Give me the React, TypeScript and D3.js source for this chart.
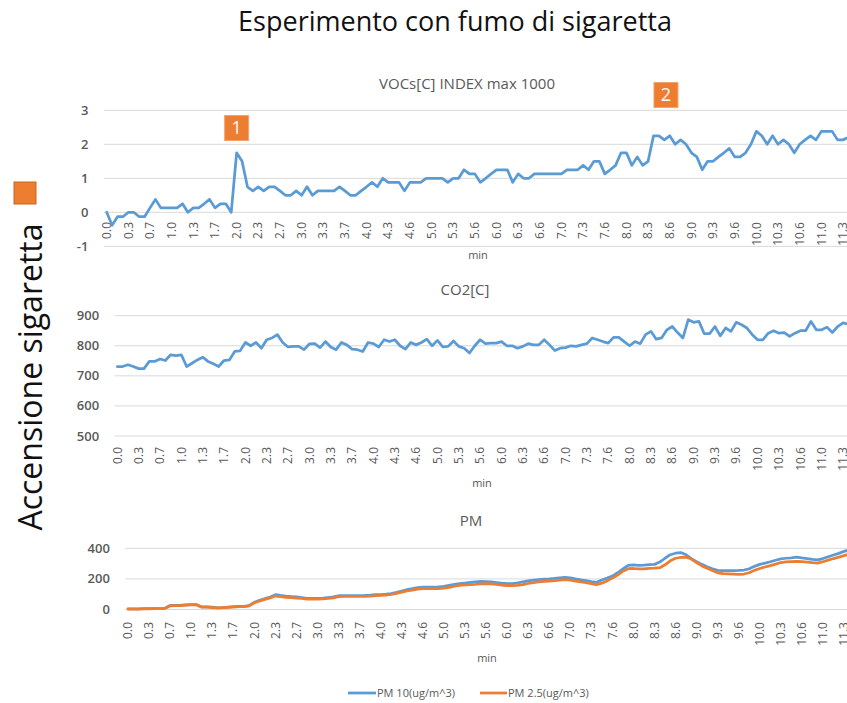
import * as d3 from 'd3'

// x categories: one sample every ~5 s, a label on every 4th sample
const tickLabels = [
  '0.0', '0.3', '0.7', '1.0', '1.3', '1.7', '2.0', '2.3', '2.7', '3.0', '3.3', '3.7',
  '4.0', '4.3', '4.6', '5.0', '5.3', '5.6', '6.0', '6.3', '6.6', '7.0', '7.3', '7.6',
  '8.0', '8.3', '8.6', '9.0', '9.3', '9.6', '10.0', '10.3', '10.6', '11.0', '11.3',
]
const labelEvery = 4

const voc = [
  0, -0.38, -0.13, -0.13, 0, 0, -0.13, -0.13, 0.13, 0.38,
  0.13, 0.13, 0.13, 0.13, 0.25, 0, 0.13, 0.13, 0.25, 0.38,
  0.13, 0.25, 0.25, 0, 1.75, 1.5, 0.75, 0.63, 0.75, 0.63,
  0.75, 0.75, 0.63, 0.5, 0.5, 0.63, 0.5, 0.75, 0.5, 0.63,
  0.63, 0.63, 0.63, 0.75, 0.63, 0.5, 0.5, 0.63, 0.75, 0.88,
  0.75, 1.0, 0.88, 0.88, 0.88, 0.63, 0.88, 0.88, 0.88, 1.0,
  1.0, 1.0, 1.0, 0.88, 1.0, 1.0, 1.25, 1.13, 1.13, 0.88,
  1.0, 1.13, 1.25, 1.25, 1.25, 0.88, 1.13, 1.0, 1.0, 1.13,
  1.13, 1.13, 1.13, 1.13, 1.13, 1.25, 1.25, 1.25, 1.38, 1.25,
  1.5, 1.5, 1.13, 1.25, 1.38, 1.75, 1.75, 1.38, 1.63, 1.38,
  1.5, 2.25, 2.25, 2.13, 2.25, 2.0, 2.13, 2.0, 1.75, 1.63,
  1.25, 1.5, 1.5, 1.63, 1.75, 1.88, 1.63, 1.63, 1.75, 2.0,
  2.38, 2.25, 2.0, 2.25, 2.0, 2.13, 2.0, 1.75, 2.0, 2.13,
  2.25, 2.13, 2.38, 2.38, 2.38, 2.13, 2.13, 2.2,
]

const co2 = [
  731, 731, 737, 731, 724, 724, 748, 748, 756, 751,
  770, 767, 770, 731, 742, 753, 762, 748, 740, 731,
  751, 753, 781, 783, 811, 800, 811, 792, 820, 826,
  837, 811, 796, 798, 798, 787, 806, 807, 794, 814,
  796, 787, 811, 803, 789, 787, 781, 811, 807, 796,
  820, 814, 820, 800, 789, 811, 803, 811, 822, 800,
  818, 796, 798, 816, 798, 792, 776, 800, 820, 807,
  809, 809, 814, 800, 800, 792, 798, 807, 803, 803,
  820, 803, 784, 792, 794, 800, 798, 803, 807, 826,
  820, 814, 809, 828, 828, 814, 800, 814, 807, 837,
  848, 822, 826, 853, 864, 844, 826, 887, 878, 881,
  840, 840, 864, 833, 859, 848, 878, 870, 859, 837,
  820, 820, 842, 850, 842, 844, 831, 842, 850, 850,
  881, 853, 853, 862, 844, 864, 876, 872,
]

const pm10 = [
  4, 4, 4, 5, 5, 6, 6, 8, 26, 27,
  28, 30, 32, 32, 17, 17, 15, 11, 13, 16,
  18, 20, 20, 26, 47, 60, 71, 82, 97, 92,
  88, 85, 82, 78, 73, 72, 73, 74, 78, 82,
  90, 91, 91, 91, 91, 92, 94, 97, 98, 100,
  104, 112, 121, 130, 136, 143, 147, 147, 147, 148,
  151, 158, 164, 169, 173, 177, 181, 184, 183, 180,
  176, 172, 169, 169, 174, 181, 187, 192, 195, 198,
  200, 203, 207, 210, 207, 200, 194, 189, 182, 178,
  193, 205, 218, 240, 265, 288, 291, 288, 290, 293,
  295, 310, 335, 358, 368, 372, 358, 332, 312, 295,
  280, 266, 256, 254, 254, 254, 255, 258, 266, 282,
  295, 303, 312, 322, 331, 335, 338, 342, 337, 333,
  328, 324, 333, 345, 356, 367, 380, 390,
]

const pm25 = [
  3, 3, 3, 4, 4, 5, 5, 7, 24, 25,
  26, 28, 30, 30, 15, 15, 13, 10, 12, 14,
  16, 18, 18, 24, 44, 56, 66, 76, 88, 84,
  80, 78, 75, 72, 68, 67, 68, 69, 72, 76,
  84, 85, 85, 85, 85, 86, 88, 91, 92, 94,
  98, 105, 113, 121, 127, 133, 136, 136, 136, 137,
  139, 145, 152, 157, 161, 163, 165, 168, 169, 167,
  164, 160, 156, 156, 158, 163, 170, 176, 181, 184,
  186, 189, 192, 195, 192, 186, 180, 176, 169, 163,
  172, 187, 205, 225, 250, 267, 268, 265, 266, 268,
  270, 273, 292, 318, 335, 340, 342, 330, 306, 285,
  270, 255, 240, 234, 233, 232, 230, 232, 240, 256,
  268, 278, 287, 297, 307, 311, 313, 315, 313, 310,
  306, 303, 312, 323, 333, 342, 352, 362,
]

// numbered markers on the VOC chart (sample index, value)
const markerText = ['1', '2']
const markerIdx = [24, 103.3]
const markerVal = [2.48, 3.45]

const BLUE = '#5B9BD5'
const ORANGE = '#ED7D31'
const GRID = '#D9D9D9'
const TXT = '#595959'
const FONT = "'Open Sans', 'Noto Sans', sans-serif"

const W = 847
const H = 703

type Series = { values: number[]; color: string }

type PanelProps = {
  title: string
  titleX: number
  titleY: number
  series: Series[]
  yTicks: number[]
  yRange: [number, number]
  xFirst: number
  xLast: number
  labelTop: number
  minX: number
  minY: number
  extra?: (y: d3.ScaleLinear<number, number>, x: d3.ScaleLinear<number, number>) => any
}

const Panel = ({ title, titleX, titleY, series, yTicks, yRange, xFirst, xLast, labelTop, minX, minY, extra }: PanelProps) => {
  const lastIdx = (tickLabels.length - 1) * labelEvery
  const x = d3.scaleLinear().domain([0, lastIdx]).range([xFirst, xLast])
  const y = d3.scaleLinear().domain(d3.extent(yTicks) as [number, number]).range(yRange)
  const step = x(1) - x(0)
  const gridStart = xFirst - step / 2
  const line = d3
    .line<number>()
    .x((_, i) => x(i))
    .y((d) => y(d))

  return (
    <g>
      <text x={titleX} y={titleY} textAnchor='middle' fontSize={15} fill={TXT}>
        {title}
      </text>
      {yTicks.map((t) => (
        <g key={t}>
          <line x1={gridStart} x2={W} y1={y(t)} y2={y(t)} stroke={GRID} strokeWidth={1} />
          <text
            x={gridStart - 15.5}
            y={y(t)}
            dy='0.35em'
            textAnchor='end'
            fontSize={13}
            fontWeight={600}
            fill={TXT}
          >
            {t}
          </text>
        </g>
      ))}
      {tickLabels.map((lab, k) => (
        <text
          key={lab}
          transform={`translate(${x(k * labelEvery)},${labelTop}) rotate(-90)`}
          dy='0.35em'
          textAnchor='end'
          fontSize={12}
          fill={TXT}
        >
          {lab}
        </text>
      ))}
      {series.map((s, i) => (
        <path
          key={i}
          d={line(s.values) as string}
          fill='none'
          stroke={s.color}
          strokeWidth={2.75}
          strokeLinejoin='round'
          strokeLinecap='round'
        />
      ))}
      <text x={minX} y={minY} textAnchor='middle' fontSize={11} fill={TXT}>
        min
      </text>
      {extra ? extra(y, x) : null}
    </g>
  )
}

const App = () => {
  return (
    <svg
      width={W}
      height={H}
      style={{ position: 'absolute', left: 0, top: 0, background: '#fff' }}
      fontFamily={FONT}
    >
      <rect width={W} height={H} fill='#fff' />
      <text x={455} y={31} textAnchor='middle' fontSize={27} fill='#111'>
        Esperimento con fumo di sigaretta
      </text>

      {/* side legend */}
      <rect x={14} y={182} width={22} height={22} fill={ORANGE} stroke='#C9671F' strokeWidth={1} />
      <text transform='translate(42,377) rotate(-90)' textAnchor='middle' fontSize={32} fill='#111'>
        Accensione sigaretta
      </text>

      <Panel
        title='VOCs[C] INDEX max 1000'
        titleX={467}
        titleY={89}
        series={[{ values: voc, color: BLUE }]}
        yTicks={[-1, 0, 1, 2, 3]}
        yRange={[246.3, 110.3]}
        xFirst={106.7}
        xLast={843}
        labelTop={222}
        minX={478}
        minY={259}
        extra={(y, x) =>
          markerText.map((m, i) => (
            <g key={m} transform={`translate(${x(markerIdx[i])},${y(markerVal[i])})`}>
              <rect x={-12} y={-12.5} width={24} height={25} fill={ORANGE} stroke='#F4A46C' strokeWidth={1} />
              <text y={0} dy='0.36em' textAnchor='middle' fontSize={18} fill='#fff'>
                {m}
              </text>
            </g>
          ))
        }
      />

      <Panel
        title='CO2[C]'
        titleX={465}
        titleY={295}
        series={[{ values: co2, color: BLUE }]}
        yTicks={[500, 600, 700, 800, 900]}
        yRange={[436, 315.7]}
        xFirst={117.3}
        xLast={843}
        labelTop={447}
        minX={482}
        minY={487}
      />

      <Panel
        title='PM'
        titleX={471}
        titleY={526}
        series={[
          { values: pm10, color: BLUE },
          { values: pm25, color: ORANGE },
        ]}
        yTicks={[0, 200, 400]}
        yRange={[609.5, 548.3]}
        xFirst={128}
        xLast={844}
        labelTop={622}
        minX={487}
        minY={662}
      />

      {/* PM legend */}
      <line x1={348} x2={376} y1={693} y2={693} stroke={BLUE} strokeWidth={2.75} />
      <text x={377} y={693} dy='0.35em' fontSize={11} fill={TXT}>
        PM 10(ug/m^3)
      </text>
      <line x1={480} x2={507} y1={693} y2={693} stroke={ORANGE} strokeWidth={2.75} />
      <text x={508} y={693} dy='0.35em' fontSize={11} fill={TXT}>
        PM 2.5(ug/m^3)
      </text>
    </svg>
  )
}

export default App
